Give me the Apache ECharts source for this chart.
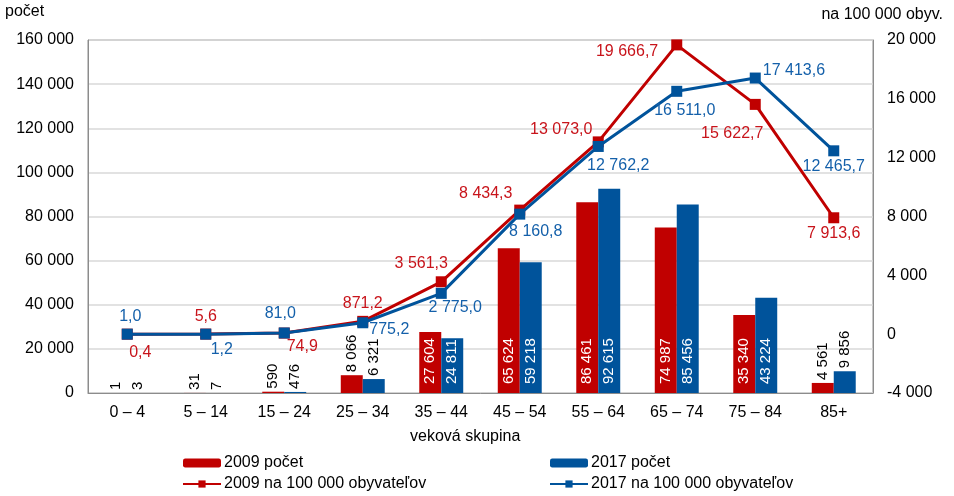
<!DOCTYPE html>
<html>
<head>
<meta charset="utf-8">
<script src="https://cdn.jsdelivr.net/npm/echarts@6/dist/echarts.min.js"></script>
<style>
html,body{margin:0;padding:0;background:#fff;}
#c{width:954px;height:496px;}
</style>
</head>
<body>
<div id="c"></div>
<script>
const categories = ['0 – 4','5 – 14','15 – 24','25 – 34','35 – 44','45 – 54','55 – 64','65 – 74','75 – 84','85+'];
const count2009 = [1, 31, 590, 8066, 27604, 65624, 86461, 74987, 35340, 4561];
const count2017 = [3, 7, 476, 6321, 24811, 59218, 92615, 85456, 43224, 9856];
const rate2009 = [0.4, 5.6, 74.9, 871.2, 3561.3, 8434.3, 13073.0, 19666.7, 15622.7, 7913.6];
const rate2017 = [1.0, 1.2, 81.0, 775.2, 2775.0, 8160.8, 12762.2, 16511.0, 17413.6, 12465.7];
const seriesNames = ['2009 počet','2017 počet','2009 na 100 000 obyvateľov','2017 na 100 000 obyvateľov'];

// styling helpers (not data)
const RED = '#C00000', BLUE = '#00539B', BLUE_LBL = '#1460AA', RED_LBL = '#C8141B';
const smallBarIdx = [0,1,2,3,9];
const pos2009 = [['bottom',[13,0]],['top',[0,1]],['bottom',[18,-5]],['top',[0,1]],['top',[-20,0]],['top',[-34,2]],['top',[-37,6]],['left',[-8,7]],['bottom',[-23,11]],['bottom',[0,-3]]];
const pos2017 = [['top',[3,1]],['bottom',[16,-3]],['top',[-4,-1]],['right',[-4,7]],['bottom',[14,-4]],['bottom',[16,-1]],['bottom',[20,1]],['bottom',[8,1]],['right',[-3,-7]],['bottom',[0,-3]]];

function fmt(v, dec) {
  const neg = v < 0;
  let s = Math.abs(v).toFixed(dec);
  let [i, d] = s.split('.');
  i = i.replace(/\B(?=(\d{3})+(?!\d))/g, ' ');
  return (neg ? '-' : '') + i + (d !== undefined ? ',' + d : '');
}

function barData(arr) {
  return arr.map((v, i) => {
    const small = smallBarIdx.indexOf(i) >= 0;
    return {
      value: v,
      label: small ? {
        show: true, position: 'top', rotate: 90, align: 'left', verticalAlign: 'middle',
        distance: 3, color: '#000', fontSize: 15, formatter: p => fmt(p.value, 0)
      } : {
        show: true, position: 'insideBottom', rotate: 90, align: 'left', verticalAlign: 'middle',
        distance: 9, color: '#fff', fontSize: 15, formatter: p => fmt(p.value, 0)
      }
    };
  });
}
function lineData(arr, pos, color) {
  return arr.map((v, i) => ({
    value: v,
    label: { show: true, position: pos[i][0], offset: pos[i][1], color: color, fontSize: 16,
      fontFamily: 'Liberation Sans', formatter: p => fmt(p.value, 1) }
  }));
}

const chart = echarts.init(document.getElementById('c'), null, {renderer: 'canvas'});
const FONT = 'Liberation Sans';
chart.setOption({
  animation: false,
  textStyle: { fontFamily: FONT, color: '#000' },
  grid: { left: 88, right: 81, top: 40, bottom: 103, show: true, borderColor: '#8c8c8c', borderWidth: 1 },
  graphic: [
    { type: 'text', left: 5, top: 4, style: { text: 'počet', font: '16px "Liberation Sans"', fill: '#000' } },
    { type: 'text', right: 11, top: 7, style: { text: 'na 100 000 obyv.', font: '16px "Liberation Sans"', fill: '#000' } },
    { type: 'text', left: 410, top: 429, style: { text: 'veková skupina', font: '16px "Liberation Sans"', fill: '#000' } }
  ],
  legend: [
    { left: 182, top: 455, height: 45, padding: 0, orient: 'vertical', itemWidth: 38, itemHeight: 9, itemGap: 5,
      data: [seriesNames[0], seriesNames[2]], textStyle: { fontSize: 16, fontFamily: FONT, color: '#000', padding: [0,0,0,-2] } },
    { left: 549, top: 455, height: 45, padding: 0, orient: 'vertical', itemWidth: 38, itemHeight: 9, itemGap: 5,
      data: [seriesNames[1], seriesNames[3]], textStyle: { fontSize: 16, fontFamily: FONT, color: '#000', padding: [0,0,0,-2] } }
  ],
  xAxis: {
    type: 'category', data: categories,
    axisLine: { lineStyle: { color: '#8c8c8c' } }, axisTick: { show: false },
    axisLabel: { fontSize: 16, color: '#000', margin: 12 }
  },
  yAxis: [
    { type: 'value', min: 0, max: 160000, interval: 20000,
      axisLine: { show: true, lineStyle: { color: '#8c8c8c' } }, axisTick: { show: false },
      axisLabel: { fontSize: 16, color: '#000', margin: 14, formatter: v => fmt(v, 0) },
      splitLine: { lineStyle: { color: '#d9d9d9', width: 1.5 } } },
    { type: 'value', min: -4000, max: 20000, interval: 4000, position: 'right',
      axisLine: { show: true, lineStyle: { color: '#8c8c8c' } }, axisTick: { show: false },
      axisLabel: { fontSize: 16, color: '#000', margin: 14, formatter: v => fmt(v, 0) },
      splitLine: { show: false } }
  ],
  series: [
    { name: seriesNames[0], type: 'bar', data: barData(count2009), itemStyle: { color: RED },
      barGap: '0%', barCategoryGap: '44%' },
    { name: seriesNames[1], type: 'bar', data: barData(count2017), itemStyle: { color: BLUE },
      barGap: '0%', barCategoryGap: '44%' },
    { name: seriesNames[2], type: 'line', yAxisIndex: 1, data: lineData(rate2009, pos2009, RED_LBL),
      symbol: 'rect', symbolSize: 11, lineStyle: { color: RED, width: 3 }, itemStyle: { color: RED }, z: 3 },
    { name: seriesNames[3], type: 'line', yAxisIndex: 1, data: lineData(rate2017, pos2017, BLUE_LBL),
      symbol: 'rect', symbolSize: 11, lineStyle: { color: BLUE, width: 3 }, itemStyle: { color: BLUE }, z: 4 }
  ]
});
</script>
</body>
</html>
